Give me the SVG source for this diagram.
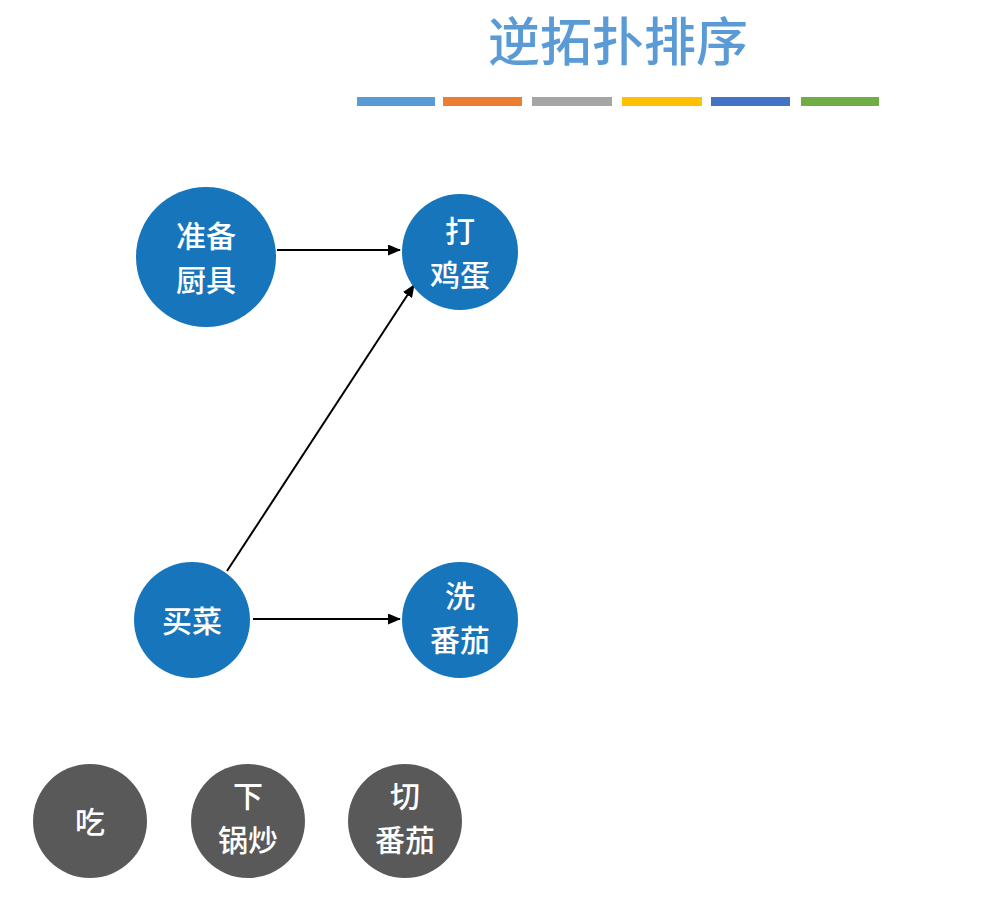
<svg xmlns="http://www.w3.org/2000/svg" width="982" height="904" viewBox="0 0 982 904">
<defs>
<marker id="ah" markerWidth="13" markerHeight="11" refX="12" refY="5.5" orient="auto" markerUnits="userSpaceOnUse">
<path d="M0,0 L13,5.5 L0,11 z" fill="#000"/>
</marker>
<style>
.t{font-family:"Noto Sans CJK SC","Noto Sans",sans-serif;font-weight:500;fill:#fff;font-size:30px;text-anchor:middle}
.title{font-family:"Noto Sans CJK SC","Noto Sans",sans-serif;font-weight:500;fill:#5b9bd5;font-size:52px;text-anchor:middle}
.blue{fill:#1775bc}
.gray{fill:#595959}
.edge{stroke:#000;stroke-width:2;fill:none;marker-end:url(#ah)}
</style>
</defs>
<rect width="982" height="904" fill="#fff"/>
<g id="title">
<text class="title" x="618" y="61">逆拓扑排序</text>
<rect x="357" y="97" width="78" height="9" fill="#5b9bd5"/>
<rect x="443" y="97" width="79" height="9" fill="#ed7d31"/>
<rect x="532" y="97" width="80" height="9" fill="#a5a5a5"/>
<rect x="622" y="97" width="80" height="9" fill="#ffc000"/>
<rect x="711" y="97" width="79" height="9" fill="#4472c4"/>
<rect x="801" y="97" width="78" height="9" fill="#70ad47"/>
</g>
<g id="edges">
<line class="edge" x1="277" y1="250" x2="400" y2="250"/>
<line class="edge" x1="227" y1="571" x2="414" y2="285"/>
<line class="edge" x1="253" y1="619" x2="400" y2="619"/>
</g>
<g id="n1"><circle class="blue" cx="206" cy="257" r="70"/><text class="t" x="206" y="247">准备</text><text class="t" x="206" y="291">厨具</text></g>
<g id="n2"><circle class="blue" cx="460" cy="252" r="58"/><text class="t" x="460" y="242">打</text><text class="t" x="460" y="286">鸡蛋</text></g>
<g id="n3"><circle class="blue" cx="192" cy="620" r="58"/><text class="t" x="192" y="632">买菜</text></g>
<g id="n4"><circle class="blue" cx="460" cy="620" r="58"/><text class="t" x="460" y="607">洗</text><text class="t" x="460" y="651">番茄</text></g>
<g id="n5"><circle class="gray" cx="90" cy="821" r="57"/><text class="t" x="90" y="833">吃</text></g>
<g id="n6"><circle class="gray" cx="248" cy="821" r="57"/><text class="t" x="248" y="807">下</text><text class="t" x="248" y="851">锅炒</text></g>
<g id="n7"><circle class="gray" cx="405" cy="821" r="57"/><text class="t" x="405" y="807">切</text><text class="t" x="405" y="851">番茄</text></g>
</svg>
